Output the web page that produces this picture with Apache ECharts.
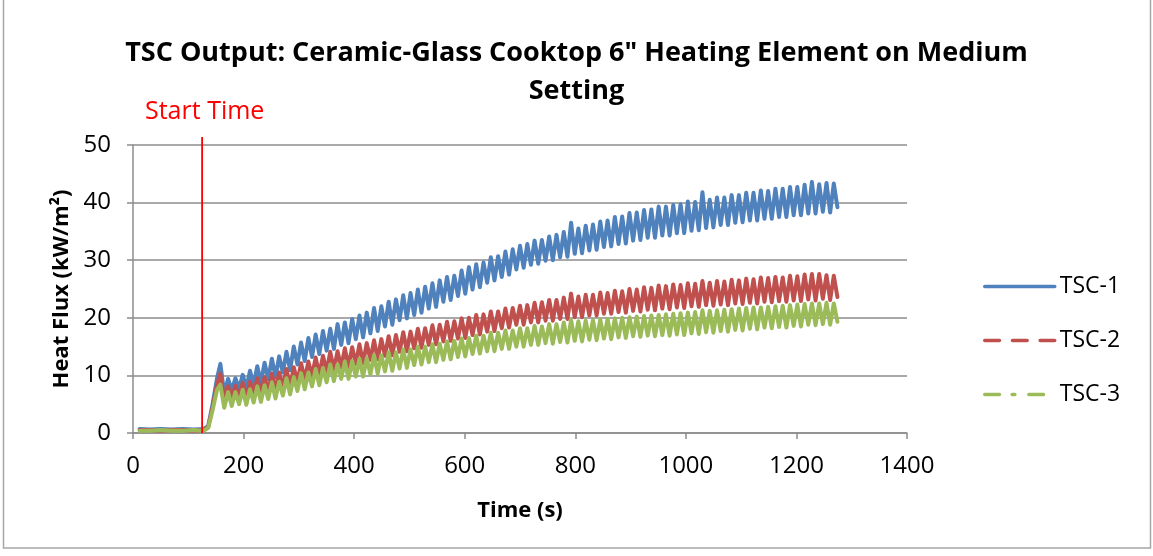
<!DOCTYPE html>
<html>
<head>
<meta charset="utf-8">
<script src="https://cdn.jsdelivr.net/npm/echarts@6/dist/echarts.min.js"></script>
<style>
  html, body { margin: 0; padding: 0; background: #ffffff; }
  #chart { width: 1153px; height: 556px; }
</style>
</head>
<body>
<div id="chart"></div>
<script>
// Sample times (s): baseline, ramp, then alternating peak / trough readings
const times = [
  12, 30, 50, 70, 90, 110, 128, 136, 144, 152, 158, 165,
  172.0, 178.6, 185.2, 191.8, 198.4, 205.0, 211.6, 218.2,
  224.8, 231.4, 238.0, 244.6, 251.2, 257.8, 264.4, 271.0,
  277.6, 284.2, 290.8, 297.4, 304.0, 310.6, 317.2, 323.8,
  330.4, 337.0, 343.6, 350.2, 356.8, 363.4, 370.0, 376.6,
  383.2, 389.8, 396.4, 403.0, 409.6, 416.2, 422.8, 429.4,
  436.0, 442.6, 449.2, 455.8, 462.4, 469.0, 475.6, 482.2,
  488.8, 495.4, 502.0, 508.6, 515.2, 521.8, 528.4, 535.0,
  541.6, 548.2, 554.8, 561.4, 568.0, 574.6, 581.2, 587.8,
  594.4, 601.0, 607.6, 614.2, 620.8, 627.4, 634.0, 640.6,
  647.2, 653.8, 660.4, 667.0, 673.6, 680.2, 686.8, 693.4,
  700.0, 706.6, 713.2, 719.8, 726.4, 733.0, 739.6, 746.2,
  752.8, 759.4, 766.0, 772.6, 779.2, 785.8, 792.4, 799.0,
  805.6, 812.2, 818.8, 825.4, 832.0, 838.6, 845.2, 851.8,
  858.4, 865.0, 871.6, 878.2, 884.8, 891.4, 898.0, 904.6,
  911.2, 917.8, 924.4, 931.0, 937.6, 944.2, 950.8, 957.4,
  964.0, 970.6, 977.2, 983.8, 990.4, 997.0, 1003.6, 1010.2,
  1016.8, 1023.4, 1030.0, 1036.6, 1043.2, 1049.8, 1056.4, 1063.0,
  1069.6, 1076.2, 1082.8, 1089.4, 1096.0, 1102.6, 1109.2, 1115.8,
  1122.4, 1129.0, 1135.6, 1142.2, 1148.8, 1155.4, 1162.0, 1168.6,
  1175.2, 1181.8, 1188.4, 1195.0, 1201.6, 1208.2, 1214.8, 1221.4,
  1228.0, 1234.6, 1241.2, 1247.8, 1254.4, 1261.0, 1267.6, 1274.2
];

// Heat flux readings (kW/m²)
const tsc1 = [
  0.7, 0.6, 0.7, 0.6, 0.7, 0.6, 0.7, 1.2, 5.0, 9.5, 12.0, 6.8,
  9.4, 7.4, 9.5, 7.7, 10.1, 7.8, 10.8, 8.4,
  11.6, 8.7, 12.2, 9.3, 12.9, 9.7, 13.3, 10.5,
  14.1, 10.9, 15.0, 11.9, 15.7, 12.5, 16.5, 13.2,
  17.1, 13.7, 17.7, 14.3, 18.1, 14.6, 18.9, 15.3,
  19.2, 15.6, 19.8, 16.3, 20.4, 16.6, 20.9, 17.3,
  21.7, 17.7, 22.0, 18.5, 22.8, 18.8, 23.2, 19.6,
  23.9, 19.9, 24.3, 20.5, 24.9, 20.9, 25.4, 21.6,
  26.0, 21.9, 26.5, 22.8, 27.1, 23.1, 27.3, 23.8,
  28.2, 24.2, 28.8, 24.9, 29.3, 25.3, 29.6, 26.1,
  30.5, 26.5, 30.7, 27.1, 31.5, 27.5, 31.9, 28.4,
  32.5, 28.7, 32.8, 29.2, 33.4, 29.4, 33.5, 29.9,
  34.1, 30.0, 34.4, 30.5, 34.9, 30.6, 36.5, 31.1,
  35.5, 31.2, 36.0, 31.7, 36.2, 31.8, 36.7, 32.3,
  36.9, 32.4, 37.5, 32.8, 37.6, 32.9, 38.2, 33.4,
  38.3, 33.5, 38.7, 33.9, 38.8, 33.9, 39.3, 34.3,
  39.3, 34.3, 39.6, 34.7, 39.7, 34.7, 40.2, 35.1,
  40.1, 35.2, 41.8, 35.6, 40.5, 35.7, 40.9, 36.1,
  40.9, 36.1, 41.3, 36.5, 41.3, 36.6, 41.7, 36.9,
  41.7, 36.9, 42.1, 37.2, 42.0, 37.2, 42.4, 37.5,
  42.4, 37.5, 42.7, 37.8, 42.7, 37.8, 43.1, 38.1,
  43.6, 38.1, 43.2, 38.4, 43.4, 38.3, 43.3, 39.2
];

const tsc2 = [
  0.5, 0.5, 0.4, 0.5, 0.5, 0.4, 0.5, 1.0, 4.5, 8.5, 10.3, 5.8,
  8.1, 5.9, 8.2, 6.2, 8.7, 6.2, 8.9, 6.6,
  9.5, 6.7, 9.7, 7.2, 10.3, 7.4, 10.5, 7.9,
  11.1, 8.1, 11.4, 8.9, 12.1, 9.3, 12.4, 9.9,
  13.1, 10.1, 13.4, 10.7, 14.1, 10.9, 14.2, 11.4,
  14.7, 11.5, 14.9, 12.0, 15.4, 12.1, 15.6, 12.7,
  16.1, 12.8, 16.3, 13.4, 16.8, 13.5, 17.0, 14.1,
  17.5, 14.2, 17.6, 14.7, 18.1, 14.8, 18.2, 15.3,
  18.7, 15.4, 18.8, 15.9, 19.3, 16.0, 19.4, 16.4,
  19.9, 16.5, 20.0, 17.0, 20.5, 17.1, 20.6, 17.6,
  21.1, 17.7, 21.1, 18.2, 21.6, 18.3, 21.7, 18.8,
  22.1, 18.8, 22.2, 19.2, 22.6, 19.2, 22.7, 19.5,
  23.1, 19.5, 23.1, 19.8, 23.5, 19.8, 24.2, 20.1,
  23.7, 20.1, 24.0, 20.4, 24.0, 20.4, 24.4, 20.7,
  24.3, 20.7, 24.7, 21.0, 24.6, 20.9, 25.0, 21.2,
  24.9, 21.1, 25.3, 21.4, 25.2, 21.3, 25.6, 21.6,
  25.5, 21.5, 25.8, 21.8, 25.7, 21.7, 26.0, 22.0,
  25.9, 21.9, 26.4, 22.2, 26.1, 22.1, 26.4, 22.3,
  26.3, 22.2, 26.6, 22.5, 26.5, 22.4, 26.8, 22.6,
  26.7, 22.5, 27.0, 22.8, 26.9, 22.7, 27.1, 22.9,
  27.0, 22.8, 27.3, 23.0, 27.2, 22.9, 27.5, 23.2,
  27.6, 23.0, 27.6, 23.3, 27.4, 23.1, 27.3, 23.6
];

const tsc3 = [
  0.4, 0.4, 0.5, 0.4, 0.4, 0.5, 0.4, 0.9, 4.0, 7.5, 8.4, 4.4,
  7.1, 4.7, 7.1, 5.0, 7.5, 4.9, 7.6, 5.3,
  8.1, 5.4, 8.3, 5.9, 8.8, 6.0, 8.9, 6.5,
  9.5, 6.7, 9.7, 7.3, 10.4, 7.6, 10.5, 8.1,
  11.1, 8.3, 11.3, 8.8, 11.9, 9.0, 11.9, 9.4,
  12.4, 9.4, 12.5, 9.8, 12.9, 9.8, 13.0, 10.2,
  13.5, 10.3, 13.5, 10.7, 14.0, 10.8, 14.0, 11.2,
  14.5, 11.3, 14.5, 11.8, 15.0, 11.9, 15.0, 12.3,
  15.4, 12.3, 15.5, 12.7, 15.9, 12.8, 16.0, 13.2,
  16.4, 13.3, 16.5, 13.7, 16.9, 13.8, 16.9, 14.2,
  17.4, 14.2, 17.4, 14.6, 17.8, 14.6, 17.8, 15.0,
  18.2, 15.0, 18.2, 15.3, 18.6, 15.3, 18.5, 15.6,
  18.9, 15.5, 18.9, 15.8, 19.2, 15.7, 19.6, 16.0,
  19.4, 15.9, 19.5, 16.2, 19.6, 16.1, 19.7, 16.4,
  19.8, 16.3, 19.9, 16.6, 20.0, 16.5, 20.1, 16.8,
  20.2, 16.7, 20.3, 16.9, 20.4, 16.8, 20.5, 17.0,
  20.6, 16.9, 20.7, 17.1, 20.8, 17.0, 20.9, 17.3,
  21.0, 17.2, 21.3, 17.5, 21.2, 17.4, 21.3, 17.7,
  21.4, 17.6, 21.5, 17.9, 21.6, 17.8, 21.7, 18.1,
  21.8, 18.0, 21.8, 18.3, 21.9, 18.2, 22.0, 18.4,
  22.1, 18.3, 22.2, 18.6, 22.3, 18.5, 22.4, 18.8,
  22.5, 18.7, 22.5, 18.9, 22.6, 18.8, 22.5, 19.3
];

const seriesNames = ['TSC-1', 'TSC-2', 'TSC-3'];
const seriesValues = [tsc1, tsc2, tsc3];
const startTime = 125;   // s, heating element switched on

const colors = ['#4F81BD', '#C0504D', '#9BBB59'];
const legendDash = ['solid', [14.7, 13], [14.7, 12.7, 2.7, 14]];
const FONT = 'Open Sans';

const toPairs = vals => times.map((t, i) => [t, vals[i]]);

const fluxSeries = seriesNames.map((name, i) => ({
  name: name,
  type: 'line',
  data: toPairs(seriesValues[i]),
  showSymbol: false,
  symbol: 'none',
  animation: false,
  lineStyle: { color: colors[i], width: 4, cap: 'round', join: 'round' },
  itemStyle: { color: colors[i] },
  z: 2 + i
}));

const chart = echarts.init(document.getElementById('chart'), null, { renderer: 'canvas' });

chart.setOption({
  animation: false,
  backgroundColor: '#ffffff',
  title: {
    text: 'TSC Output: Ceramic-Glass Cooktop 6" Heating Element on Medium\nSetting',
    left: 'center',
    top: 29,
    textStyle: { fontFamily: FONT, fontWeight: 'bold', fontSize: 27, lineHeight: 38, color: '#000' }
  },
  legend: {
    orient: 'vertical',
    left: 983,
    top: 275,
    padding: 0,
    itemWidth: 70,
    itemHeight: 20,
    itemGap: 31,
    itemStyle: { opacity: 0 },
    textStyle: { fontFamily: FONT, fontSize: 23, color: '#000' },
    data: seriesNames.map((n, i) => ({
      name: n,
      lineStyle: { color: colors[i], width: 3.5, type: legendDash[i], cap: 'round' }
    }))
  },
  grid: { left: 133, right: 246, top: 145, bottom: 123, containLabel: false },
  xAxis: {
    type: 'value',
    min: 0, max: 1400, interval: 200,
    name: 'Time (s)',
    nameLocation: 'middle',
    nameGap: 67,
    nameTextStyle: { fontFamily: FONT, fontWeight: 'bold', fontSize: 22, color: '#000' },
    axisLine: { show: true, onZero: false, lineStyle: { color: '#8c8c8c', width: 1.5 } },
    axisTick: { show: true, length: 6, lineStyle: { color: '#8c8c8c', width: 1.5 } },
    axisLabel: { fontFamily: FONT, fontSize: 24, color: '#000', margin: 21, formatter: v => String(v) },
    splitLine: { show: false }
  },
  yAxis: {
    type: 'value',
    min: 0, max: 50, interval: 10,
    name: 'Heat Flux (kW/m²)',
    nameLocation: 'middle',
    nameGap: 58,
    nameRotate: 90,
    nameTextStyle: { fontFamily: FONT, fontWeight: 'bold', fontSize: 22, color: '#000' },
    axisLine: { show: true, lineStyle: { color: '#8c8c8c', width: 1.5 } },
    axisTick: { show: true, length: 6, lineStyle: { color: '#8c8c8c', width: 1.5 } },
    axisLabel: { fontFamily: FONT, fontSize: 24, color: '#000', margin: 22 },
    splitLine: { show: true, lineStyle: { color: '#8c8c8c', width: 1.5 } }
  },
  graphic: [
    {
      type: 'rect',
      shape: { x: 3.5, y: -5, width: 1147, height: 553 },
      style: { fill: 'none', stroke: '#a6a6a6', lineWidth: 1.5 },
      silent: true, z: -10
    },
    {
      type: 'text',
      left: 145, top: 99,
      style: { text: 'Start Time', fill: '#FF0000', font: '25px "Open Sans"' },
      silent: true
    }
  ],
  series: fluxSeries.concat([{
    name: 'Start Time',
    type: 'line',
    data: [[startTime, 0], [startTime, 51.4]],
    showSymbol: false,
    symbol: 'none',
    clip: false,
    animation: false,
    lineStyle: { color: '#FF0000', width: 1.8 },
    z: 10
  }])
});
</script>
</body>
</html>
